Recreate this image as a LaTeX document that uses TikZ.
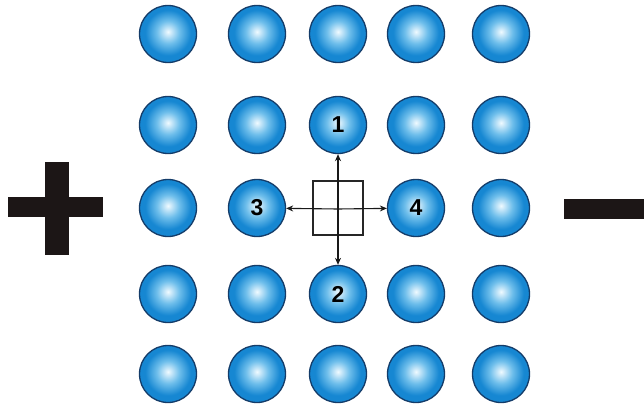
\documentclass[tikz,border=0pt]{standalone}
\usepackage{fontspec}
\setmainfont{Liberation Sans}
\usetikzlibrary{arrows.meta}
\definecolor{ballmid}{RGB}{110,190,235}
\definecolor{ballout}{RGB}{22,135,210}
\definecolor{ballin}{RGB}{240,250,255}
\definecolor{ballline}{RGB}{20,60,105}
\definecolor{signcol}{RGB}{28,22,22}
\pgfdeclareradialshading{myball}{\pgfpoint{0bp}{2bp}}{color(0bp)=(ballin); color(10bp)=(ballmid); color(20bp)=(ballout); color(25bp)=(ballout); color(50bp)=(ballout)}
\tikzset{
  ball/.style={circle, minimum size=57pt, inner sep=0pt, shading=myball, draw=ballline, line width=1.3pt, font=\bfseries\fontsize{23}{23}\selectfont, text=black},
  conn/.style={draw=black!90, line width=1.1pt, -{Stealth[length=7pt,width=6pt]}},
  sign/.style={fill=signcol, draw=none}
}
\def\xs{{168,257,338,416,501}}
\def\ys{{34,125,208,294,374}}
\begin{document}
\begin{tikzpicture}[x=1pt,y=-1pt]
\useasboundingbox (0,0) rectangle (644,404);
% unlabeled balls
\foreach \r/\c in {1/1,1/2,1/3,1/4,1/5,2/1,2/2,2/4,2/5,3/1,3/5,4/1,4/2,4/4,4/5,5/1,5/2,5/3,5/4,5/5}{
  \pgfmathsetmacro\x{\xs[\c-1]}
  \pgfmathsetmacro\y{\ys[\r-1]}
  \node[ball] (b\r\c) at (\x,\y) {};
}
% labeled balls
\node[ball] (b23) at (338,125) {1};
\node[ball] (b43) at (338,294) {2};
\node[ball] (b32) at (257,208) {3};
\node[ball] (b34) at (416,208) {\raisebox{-4pt}{4}};
% central square
\node[draw=black!85, line width=1.3pt, minimum width=50pt, minimum height=54pt, inner sep=0pt] (sq) at (338,208) {};
\coordinate (o) at (338,209);
\draw[conn] (o) -- (b23);
\draw[conn] (o) -- (b43);
\draw[conn] (o) -- (b32);
\draw[conn] (o) -- (b34);
% plus sign
\path[sign] (8,197) rectangle (103,217);
\path[sign] (45,162) rectangle (69,255);
% minus sign
\path[sign] (564,199) rectangle (644,219);
\end{tikzpicture}
\end{document}
